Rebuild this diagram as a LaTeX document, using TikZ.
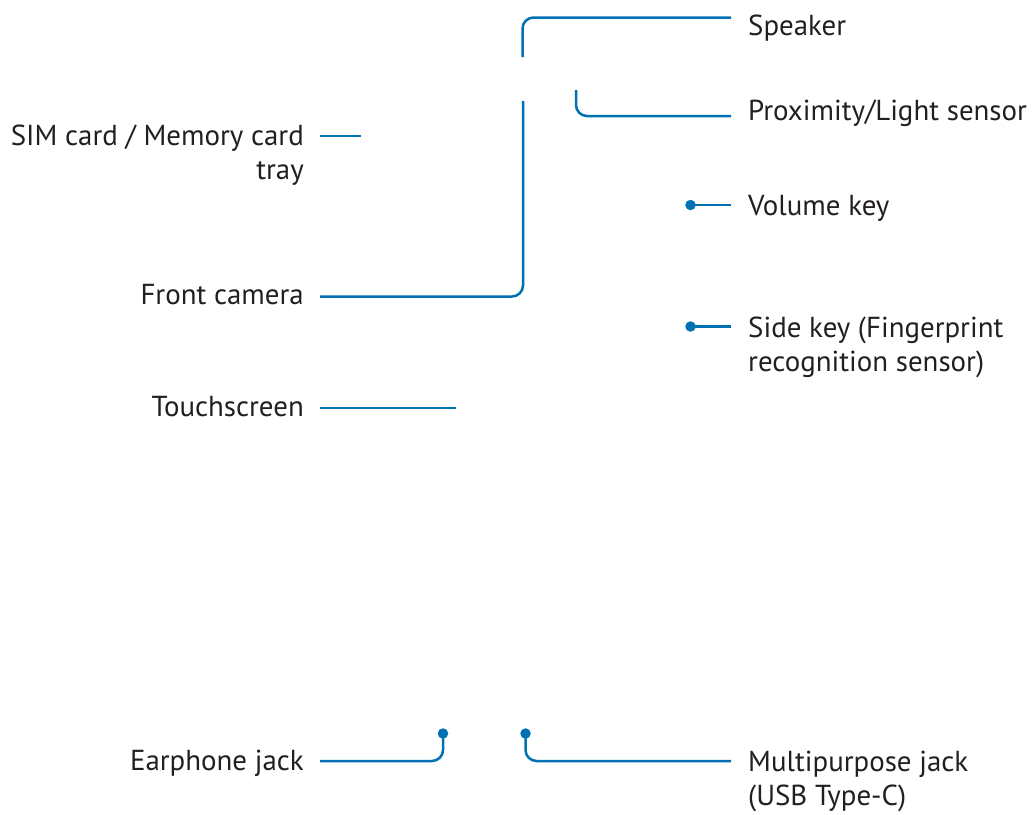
\documentclass[tikz,border=0pt]{standalone}
\usepackage{fontspec}
\setmainfont{PT Sans}
\definecolor{lineblue}{RGB}{0,113,178}
\definecolor{txt}{RGB}{35,31,32}
\begin{document}
\begin{tikzpicture}[x=1pt,y=-1pt,
  lbl/.style={font=\fontsize{28.9}{34}\selectfont, inner sep=0pt, text=txt},
  lleft/.style={lbl, anchor=base east, align=right},
  lright/.style={lbl, anchor=base west, align=left},
  conn/.style={draw=lineblue, line width=2.5pt, rounded corners=11pt},
  dot/.style={circle, fill=lineblue, inner sep=0pt, minimum size=10.5pt}]
\useasboundingbox (0,0) rectangle (1033,814);

% labels (base anchor = baseline of the last line)
\node[lright] (spk) at (748,35) {Speaker};
\node[lright] (prox) at (748,120) {Proximity/Light sensor};
\node[lright] (vol) at (748,215) {Volume key};
\node[lright] (side) at (748,371) {Side key (Fingerprint\\recognition sensor)};
\node[lright] (multi) at (748,805.5) {Multipurpose jack\\(USB Type-C)};
\node[lleft] (sim) at (304,179.5) {SIM card / Memory card\\tray};
\node[lleft] (cam) at (304,304.5) {Front camera};
\node[lleft] (touch) at (304,416.5) {Touchscreen};
\node[lleft] (ear) at (304,770.5) {Earphone jack};

% connector ends
\coordinate (spkA) at (522.5,57);
\coordinate (spkB) at (731,17.5);
\coordinate (proxA) at (576,90);
\coordinate (proxB) at (731,116);
\coordinate (volB) at (731,205);
\coordinate (sideB) at (731,326.5);
\coordinate (camA) at (523,101);
\coordinate (camB) at (320,296.5);
\coordinate (simA) at (320,136);
\coordinate (simB) at (361,136);
\coordinate (touchA) at (320,408);
\coordinate (touchB) at (456,408);
\coordinate (earA) at (320,761);
\coordinate (multiB) at (731,761);

% dots
\node[dot] (volD) at (690.5,205) {};
\node[dot] (sideD) at (690.5,326.5) {};
\node[dot] (earD) at (443,733.5) {};
\node[dot] (multiD) at (525.5,733.5) {};

% connectors
\draw[conn] (spkA) |- (spkB);
\draw[conn] (proxA) |- (proxB);
\draw[conn] (volD.center) -- (volB);
\draw[conn] (sideD.center) -- (sideB);
\draw[conn] (camA) |- (camB);
\draw[conn] (simA) -- (simB);
\draw[conn] (touchA) -- (touchB);
\draw[conn] (earA) -| (earD.center);
\draw[conn] (multiD.center) |- (multiB);
\end{tikzpicture}
\end{document}
